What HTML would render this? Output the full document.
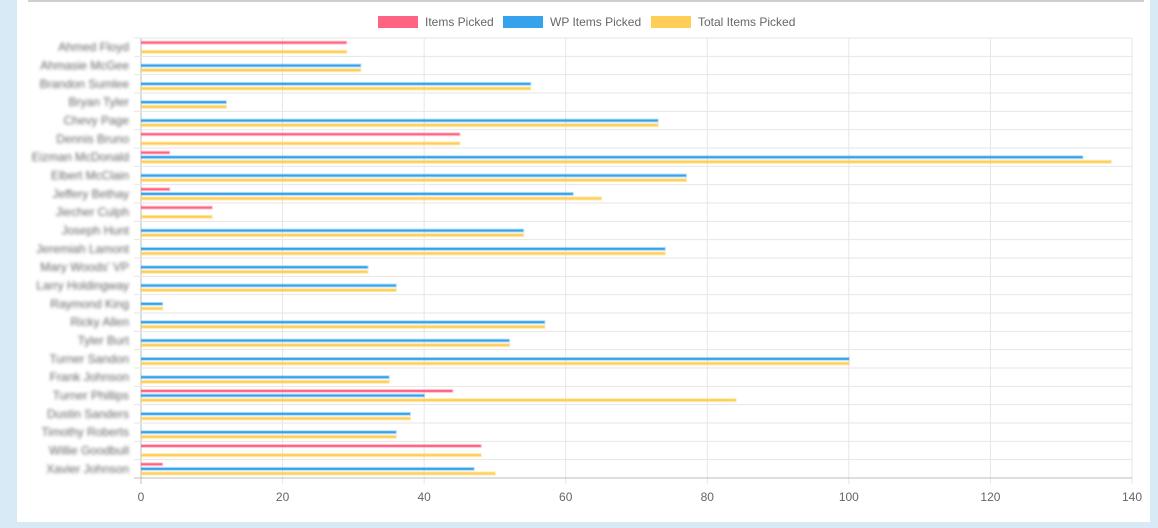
<!DOCTYPE html>
<html><head><meta charset="utf-8"><style>
html,body{margin:0;padding:0;width:1158px;height:528px;overflow:hidden;background:#d9eaf7;font-family:"Liberation Sans",sans-serif}
#panel{position:absolute;left:17px;top:0;width:1133px;height:522px;background:#fff}
#topline{position:absolute;left:28px;top:0;width:1116px;height:2px;background:#cfcfcf}
svg{position:absolute;left:0;top:0}
</style></head><body>
<div id="panel"></div>
<div id="topline"></div>
<svg id="chart" width="1158" height="528"></svg>
<script>
const categories=["Ahmed Floyd","Ahmasie McGee","Brandon Sumlee","Bryan Tyler","Chevy Page","Dennis Bruno","Eizman McDonald","Elbert McClain","Jeffery Bethay","Jiecher Culph","Joseph Hunt","Jeremiah Lamont","Mary Woods' VP","Larry Holdingway","Raymond King","Ricky Allen","Tyler Burt","Turner Sandon","Frank Johnson","Turner Phillips","Dustin Sanders","Timothy Roberts","Willie Goodbull","Xavier Johnson"];
const itemsPicked=[29,0,0,0,0,45,4,0,4,10,0,0,0,0,0,0,0,0,0,44,0,0,48,3];
const wpItemsPicked=[0,31,55,12,73,0,133,77,61,0,54,74,32,36,3,57,52,100,35,40,38,36,0,47];
const totalItemsPicked=[29,31,55,12,73,45,137,77,65,10,54,74,32,36,3,57,52,100,35,84,38,36,48,50];
const xTicks=[0,20,40,60,80,100,120,140];
const seriesNames=["Items Picked","WP Items Picked","Total Items Picked"];

const NS="http://www.w3.org/2000/svg";
const svg=document.getElementById('chart');
const L=141,R=1132,T=38,B=478,XMAX=140;
const xs=v=>L+(v/XMAX)*(R-L);
const rowH=(B-T)/categories.length;
const ys=i=>T+i*rowH;
function mk(tag,attrs){const e=document.createElementNS(NS,tag);for(const k in attrs)e.setAttribute(k,attrs[k]);svg.appendChild(e);return e;}
// grid
xTicks.forEach(t=>{
  const g=mk('line',{x1:xs(t),x2:xs(t),y1:T,y2:B+6,stroke:t===0?'#bdbdbd':'#e6e6e6','stroke-width':1});
  
  
  const tx=mk('text',{x:xs(t),y:501,'text-anchor':'middle','font-size':12,fill:'#666'});
  tx.textContent=t;
  
  
});
for(let i=0;i<=categories.length;i++){
  const g=mk('line',{x1:134,x2:R,y1:ys(i),y2:ys(i),stroke:i===categories.length?'#bdbdbd':'#e6e6e6','stroke-width':1});
  
  
}
const cols=[['#ff6384','rgba(255,99,132,0.35)'],['#36a2eb','rgba(54,162,235,0.35)'],['#ffce56','rgba(255,206,86,0.45)']];
const series=[itemsPicked,wpItemsPicked,totalItemsPicked];
const offs=[4.6,9.2,13.8];
categories.forEach((c,i)=>{
  const lb=mk('text',{x:129,y:ys(i)+rowH/2+4,'text-anchor':'end','font-size':12,fill:'#666',style:'filter:blur(1.6px)'});
  lb.textContent=c;
  
  
  series.forEach((s,k)=>{
    const v=s[i]; if(!v) return;
    const y=ys(i)+offs[k];
    const bg=mk('rect',{x:L,y:y-2,width:xs(v)-L+1,height:4,fill:cols[k][1]});
    
    
    const r=mk('rect',{x:L,y:y-1,width:xs(v)-L,height:2,fill:cols[k][0]});
    
    
  });
});
// legend
const legX=[378,503,651];
seriesNames.forEach((n,k)=>{
  const b=mk('rect',{x:legX[k],y:16,width:40,height:12,fill:cols[k][0]});
  
  
  const t=mk('text',{x:legX[k]+47,y:26,'font-size':12,fill:'#666'});
  t.textContent=n;
  
  
});
</script>
</body></html>
